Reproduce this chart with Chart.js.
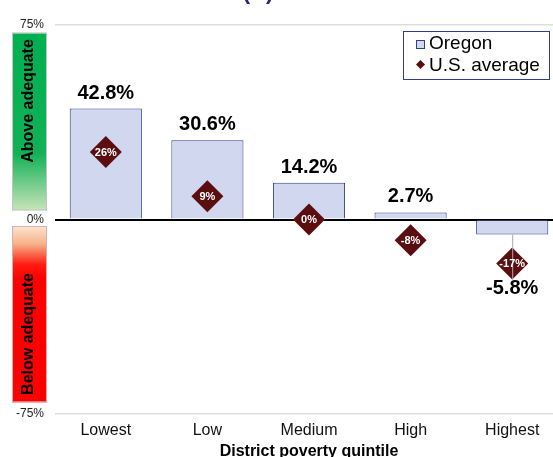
<!DOCTYPE html>
<html>
<head>
<meta charset="utf-8">
<script src="https://cdn.jsdelivr.net/npm/chart.js@4.4.1/dist/chart.umd.min.js"></script>
<style>
  html, body { margin: 0; background: #fff; overflow: hidden; }
  #wrap { width: 553px; height: 457px; }
</style>
</head>
<body>
<div id="wrap"><canvas id="myChart" width="553" height="457"></canvas></div>
<script>
// data
var quintiles = ['Lowest', 'Low', 'Medium', 'High', 'Highest'];
var oregonValues = [42.8, 30.6, 14.2, 2.7, -5.8];
var usAverageValues = [26, 9, 0, -8, -17];
var seriesNames = ['Oregon', 'U.S. average'];
var yTickValues = [75, 0, -75];
var axisTitle = 'District poverty quintile';
var bandLabels = ['Above adequate', 'Below adequate'];

var FONT = '"Liberation Sans", Arial, sans-serif';
var barFill = '#d1d7ef';
var barEdge = '#2f3f8f';
var diamondColor = '#5a0e10';
var plotRight = 563; // source figure is cropped: plot runs past the right edge

Chart.defaults.font.family = FONT;

/* stretch the plot area past the canvas edge */
var widenPlugin = {
  id: 'widen',
  afterLayout: function(chart) {
    var extra = plotRight - chart.chartArea.right;
    chart.chartArea.right += extra;
    chart.chartArea.width += extra;
    var x = chart.scales.x;
    x.right += extra;
    x.width += extra;
    x.configure();
  }
};

/* draws value labels, side bands, legend box and the clipped title */
var decorPlugin = {
  id: 'decor',
  afterDatasetsDraw: function(chart) {
    var ctx = chart.ctx;
    var barMeta = chart.getDatasetMeta(0);
    var ptMeta = chart.getDatasetMeta(1);
    ctx.save();

    // leader line for the negative bar label
    barMeta.data.forEach(function(bar, i) {
      if (oregonValues[i] < 0) {
        var pt = ptMeta.data[i];
        ctx.strokeStyle = '#aaaaaa';
        ctx.lineWidth = 1;
        ctx.beginPath();
        ctx.moveTo(bar.x + 0.5, bar.y);
        ctx.lineTo(bar.x + 0.5, pt.y + 16);
        ctx.stroke();
      }
    });

    // US average labels inside the diamonds
    ctx.fillStyle = '#ffffff';
    ctx.font = 'bold 11px ' + FONT;
    ctx.textAlign = 'center';
    ctx.textBaseline = 'middle';
    ptMeta.data.forEach(function(pt, i) {
      ctx.fillText(usAverageValues[i] + '%', pt.x, pt.y + 0.5);
    });

    // Oregon value labels
    ctx.fillStyle = '#000000';
    ctx.font = 'bold 20px ' + FONT;
    barMeta.data.forEach(function(bar, i) {
      var v = oregonValues[i];
      if (v >= 0) {
        ctx.textBaseline = 'alphabetic';
        ctx.fillText(v.toFixed(1) + '%', bar.x, bar.y - 10);
      } else {
        var pt = ptMeta.data[i];
        ctx.textBaseline = 'top';
        ctx.fillText(v.toFixed(1) + '%', bar.x, pt.y + 15);
      }
    });
    ctx.restore();
  },
  afterDraw: function(chart) {
    var ctx = chart.ctx;
    var y = chart.scales.y;
    ctx.save();

    // green "above" band
    var gTop = y.getPixelForValue(72), gBot = y.getPixelForValue(3.5);
    var g = ctx.createLinearGradient(0, gTop, 0, gBot);
    g.addColorStop(0, '#00b050');
    g.addColorStop(0.68, '#12b157');
    g.addColorStop(1, '#c8e4b8');
    ctx.fillStyle = g;
    ctx.fillRect(12, gTop, 35, gBot - gTop);
    ctx.strokeStyle = '#c0c8c0';
    ctx.lineWidth = 1;
    ctx.strokeRect(12.5, gTop + 0.5, 34, gBot - gTop - 1);

    // red "below" band
    var rTop = y.getPixelForValue(-2.5), rBot = y.getPixelForValue(-70.5);
    var r = ctx.createLinearGradient(0, rTop, 0, rBot);
    r.addColorStop(0, '#fde3d3');
    r.addColorStop(0.1, '#f6b48a');
    r.addColorStop(0.22, '#ff1a10');
    r.addColorStop(0.3, '#ff0000');
    r.addColorStop(1, '#ff0000');
    ctx.fillStyle = r;
    ctx.fillRect(12, rTop, 35, rBot - rTop);
    ctx.strokeStyle = '#d8b0b0';
    ctx.strokeRect(12.5, rTop + 0.5, 34, rBot - rTop - 1);

    // rotated band labels
    ctx.fillStyle = '#000000';
    ctx.font = 'bold 16px ' + FONT;
    ctx.textAlign = 'center';
    ctx.textBaseline = 'middle';
    [[bandLabels[0], 101], [bandLabels[1], 334]].forEach(function(b) {
      ctx.save();
      ctx.translate(29, b[1]);
      ctx.rotate(-Math.PI / 2);
      ctx.fillText(b[0], 0, 0);
      ctx.restore();
    });

    // legend box
    var lx = 403, ly = 31, lw = 146, lh = 48;
    ctx.fillStyle = '#ffffff';
    ctx.fillRect(lx, ly, lw, lh);
    ctx.strokeStyle = barEdge;
    ctx.lineWidth = 1;
    ctx.strokeRect(lx + 0.5, ly + 0.5, lw, lh);

    ctx.fillStyle = barFill;
    ctx.fillRect(416, 40, 8, 8);
    ctx.strokeStyle = barEdge;
    ctx.strokeRect(416.5, 40.5, 8, 8);

    ctx.fillStyle = diamondColor;
    ctx.beginPath();
    ctx.moveTo(420.5, 60);
    ctx.lineTo(425, 64.5);
    ctx.lineTo(420.5, 69);
    ctx.lineTo(416, 64.5);
    ctx.closePath();
    ctx.fill();

    ctx.fillStyle = '#000000';
    ctx.font = '19px ' + FONT;
    ctx.textAlign = 'left';
    ctx.textBaseline = 'middle';
    ctx.fillText(seriesNames[0], 429, 44);
    ctx.fillText(seriesNames[1], 429, 65.5);

    // clipped panel title
    ctx.fillStyle = '#1f2a7a';
    ctx.font = 'bold 22px ' + FONT;
    ctx.textAlign = 'center';
    ctx.textBaseline = 'alphabetic';
    ctx.fillText('(A)', 258, -1.5);

    ctx.restore();
  }
};

var config = {
  type: 'bar',
  data: {
    labels: quintiles,
    datasets: [{
      label: seriesNames[0],
      data: oregonValues,
      backgroundColor: barFill,
      borderColor: barEdge,
      borderWidth: 1,
      categoryPercentage: 1,
      barPercentage: 0.71,
      order: 2
    }, {
      type: 'line',
      label: seriesNames[1],
      data: usAverageValues,
      showLine: false,
      pointStyle: 'rectRot',
      pointRadius: 16,
      pointHoverRadius: 16,
      pointBackgroundColor: diamondColor,
      pointBorderColor: diamondColor,
      pointBorderWidth: 0,
      order: 1
    }]
  },
  options: {
    responsive: false,
    animation: false,
    layout: { padding: { left: 0, right: 0, top: 25, bottom: 0 } },
    plugins: {
      legend: { display: false },
      tooltip: { enabled: false }
    },
    scales: {
      x: {
        grid: { display: false, drawTicks: false },
        border: { display: false },
        ticks: { color: '#111', font: { size: 16 }, padding: 7 },
        title: {
          display: true,
          text: axisTitle,
          color: '#000',
          font: { size: 16, weight: 'bold' },
          padding: { top: 0, bottom: -4 }
        },
        afterFit: function(scale) { scale.height = 43; }
      },
      y: {
        min: -75,
        max: 75,
        afterBuildTicks: function(scale) {
          scale.ticks = yTickValues.map(function(v) { return { value: v }; });
        },
        grid: {
          drawTicks: false,
          color: function(c) { return c.tick && c.tick.value === 0 ? '#000000' : '#dddddd'; },
          lineWidth: function(c) { return c.tick && c.tick.value === 0 ? 2 : 1.5; }
        },
        border: { display: false },
        ticks: {
          color: '#222',
          font: { size: 12 },
          padding: 11,
          callback: function(v) { return v + '%'; }
        },
        afterFit: function(scale) { scale.width = 55; }
      }
    }
  },
  plugins: [widenPlugin, decorPlugin]
};

window.onload = function() {
  var ctx = document.getElementById('myChart').getContext('2d');
  window.povertyChart = new Chart(ctx, config);
};
</script>
</body>
</html>
